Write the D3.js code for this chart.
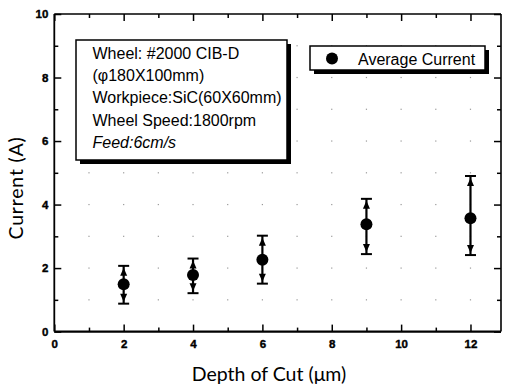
<!DOCTYPE html>
<html>
<head>
<meta charset="utf-8">
<script src="https://cdn.jsdelivr.net/npm/d3@7"></script>
<style>
  body { margin: 0; background: #fff; }
  svg { display: block; }
</style>
</head>
<body>
<svg id="chart" width="505" height="388"></svg>
<script>
const depth = [2, 4, 6, 9, 12];
const current = [1.49, 1.78, 2.26, 3.38, 3.57];
const upper = [2.07, 2.30, 3.02, 4.18, 4.90];
const lower = [0.88, 1.21, 1.51, 2.44, 2.41];

const xMajor = [0, 2, 4, 6, 8, 10, 12];
const xMinor = [1, 3, 5, 7, 9, 11];
const yMajor = [0, 2, 4, 6, 8, 10];
const yMinor = [1, 3, 5, 7, 9];

const infoLines = ["Wheel: #2000 CIB-D", "(\u03c6180X100mm)", "Workpiece:SiC(60X60mm)", "Wheel Speed:1800rpm", "Feed:6cm/s"];

const svg = d3.select("#chart");
const plotL = 54.3, plotR = 501, plotT = 14, plotB = 331.6;

const x = d3.scaleLinear().domain([0, 12.88]).range([plotL, plotR]);
const y = d3.scaleLinear().domain([0, 10]).range([plotB, plotT]);

// grid dots
const gridPts = [];
d3.range(1, 13).forEach(i => d3.range(1, 10).forEach(j => gridPts.push([i, j])));
svg.append("g").selectAll("rect")
  .data(gridPts)
  .enter().append("rect")
  .attr("x", d => x(d[0]) - 0.6)
  .attr("y", d => y(d[1]) - 0.6)
  .attr("width", 1.2).attr("height", 1.2)
  .attr("fill", "#999");

// axes
function styleAxis(g, w) {
  g.select(".domain").remove();
  g.selectAll("line").attr("stroke", "#000").attr("stroke-width", w);
  g.selectAll("text")
    .attr("font-family", "Liberation Sans, Arial, sans-serif")
    .attr("font-weight", "bold")
    .attr("font-size", "11.5px")
    .attr("stroke", "#000").attr("stroke-width", 0.4)
    .attr("fill", "#000");
}

svg.append("g").attr("transform", `translate(0,${plotB})`)
  .call(d3.axisBottom(x).tickValues(xMajor).tickSize(-7).tickPadding(8).tickFormat(d3.format("d")))
  .call(g => styleAxis(g, 1.5));
svg.append("g").attr("transform", `translate(0,${plotB})`)
  .call(d3.axisBottom(x).tickValues(xMinor).tickSize(-4).tickFormat(""))
  .call(g => styleAxis(g, 1.5));
svg.append("g").attr("transform", `translate(0,${plotT})`)
  .call(d3.axisTop(x).tickValues(xMajor).tickSize(-7).tickFormat(""))
  .call(g => styleAxis(g, 1.5));
svg.append("g").attr("transform", `translate(0,${plotT})`)
  .call(d3.axisTop(x).tickValues(xMinor).tickSize(-4).tickFormat(""))
  .call(g => styleAxis(g, 1.5));

svg.append("g").attr("transform", `translate(${plotL},0)`)
  .call(d3.axisLeft(y).tickValues(yMajor).tickSize(-7).tickPadding(6).tickFormat(d3.format("d")))
  .call(g => styleAxis(g, 1.5));
svg.append("g").attr("transform", `translate(${plotL},0)`)
  .call(d3.axisLeft(y).tickValues(yMinor).tickSize(-4).tickFormat(""))
  .call(g => styleAxis(g, 1.5));
svg.append("g").attr("transform", `translate(${plotR},0)`)
  .call(d3.axisRight(y).tickValues(yMajor).tickSize(-7).tickFormat(""))
  .call(g => styleAxis(g, 1.5));
svg.append("g").attr("transform", `translate(${plotR},0)`)
  .call(d3.axisRight(y).tickValues(yMinor).tickSize(-4).tickFormat(""))
  .call(g => styleAxis(g, 1.5));

// frame
svg.append("line").attr("x1", plotL).attr("x2", plotR).attr("y1", plotB).attr("y2", plotB)
  .attr("stroke", "#000").attr("stroke-width", 2.2);
svg.append("line").attr("x1", plotL).attr("x2", plotR).attr("y1", plotT).attr("y2", plotT)
  .attr("stroke", "#000").attr("stroke-width", 1.6);
svg.append("line").attr("x1", plotL).attr("x2", plotL).attr("y1", plotT).attr("y2", plotB)
  .attr("stroke", "#000").attr("stroke-width", 1.8);
svg.append("line").attr("x1", plotR).attr("x2", plotR).attr("y1", plotT).attr("y2", plotB)
  .attr("stroke", "#000").attr("stroke-width", 1.6);

// error bars
const pts = depth.map((d, i) => ({ x: d, y: current[i], hi: upper[i], lo: lower[i] }));
const eb = svg.append("g");
eb.selectAll(".stem").data(pts).enter().append("line")
  .attr("x1", d => x(d.x)).attr("x2", d => x(d.x))
  .attr("y1", d => y(d.hi)).attr("y2", d => y(d.lo))
  .attr("stroke", "#000").attr("stroke-width", 2.2);
eb.selectAll(".capHi").data(pts).enter().append("line")
  .attr("x1", d => x(d.x) - 5.5).attr("x2", d => x(d.x) + 5.5)
  .attr("y1", d => y(d.hi)).attr("y2", d => y(d.hi))
  .attr("stroke", "#000").attr("stroke-width", 2);
eb.selectAll(".capLo").data(pts).enter().append("line")
  .attr("x1", d => x(d.x) - 5.5).attr("x2", d => x(d.x) + 5.5)
  .attr("y1", d => y(d.lo)).attr("y2", d => y(d.lo))
  .attr("stroke", "#000").attr("stroke-width", 2);
// arrow heads toward caps
eb.selectAll(".arrHi").data(pts).enter().append("path")
  .attr("d", d => {
    const cx = x(d.x), t = y(d.hi) + 2;
    return `M${cx},${t}L${cx - 3.5},${t + 8}L${cx + 3.5},${t + 8}Z`;
  }).attr("fill", "#000");
eb.selectAll(".arrLo").data(pts).enter().append("path")
  .attr("d", d => {
    const cx = x(d.x), t = y(d.lo) - 2;
    return `M${cx},${t}L${cx - 3.5},${t - 8}L${cx + 3.5},${t - 8}Z`;
  }).attr("fill", "#000");

svg.append("g").selectAll("circle").data(pts).enter().append("circle")
  .attr("cx", d => x(d.x)).attr("cy", d => y(d.y)).attr("r", 6)
  .attr("fill", "#000");

// info box
const box = svg.append("g");
box.append("rect").attr("x", 80).attr("y", 44).attr("width", 211).attr("height", 120).attr("fill", "#000");
box.append("rect").attr("x", 76).attr("y", 40).attr("width", 211).attr("height", 120)
  .attr("fill", "#fff").attr("stroke", "#000").attr("stroke-width", 1.5);
box.selectAll("text").data(infoLines).enter().append("text")
  .attr("x", 92.5)
  .attr("y", (d, i) => 59 + i * 22.2)
  .attr("font-family", "Liberation Sans, Arial, sans-serif")
  .attr("font-size", "16px")
  .attr("font-style", (d, i) => i === 4 ? "italic" : "normal")
  .attr("fill", "#000")
  .text(d => d);

// legend
const lg = svg.append("g");
lg.append("rect").attr("x", 314).attr("y", 50).attr("width", 175).attr("height", 24).attr("fill", "#000");
lg.append("rect").attr("x", 310).attr("y", 46).attr("width", 175).attr("height", 24)
  .attr("fill", "#fff").attr("stroke", "#000").attr("stroke-width", 1.5);
lg.append("circle").attr("cx", 332).attr("cy", 58.5).attr("r", 6).attr("fill", "#000");
lg.append("text").attr("x", 358).attr("y", 64.5)
  .attr("font-family", "Liberation Sans, Arial, sans-serif")
  .attr("font-size", "16px").attr("fill", "#000")
  .text("Average Current");

// axis titles
svg.append("text").attr("x", 269).attr("y", 381)
  .attr("text-anchor", "middle")
  .attr("font-family", "Lato, sans-serif").attr("font-size", "19.5px")
  .attr("fill", "#000")
  .text("Depth of Cut (\u03bcm)");
svg.append("text")
  .attr("transform", "translate(23,188) rotate(-90)")
  .attr("text-anchor", "middle")
  .attr("font-family", "Lato, sans-serif").attr("font-size", "19.5px")
  .attr("letter-spacing", "0.8px")
  .attr("fill", "#000")
  .text("Current (A)");
</script>
</body>
</html>
